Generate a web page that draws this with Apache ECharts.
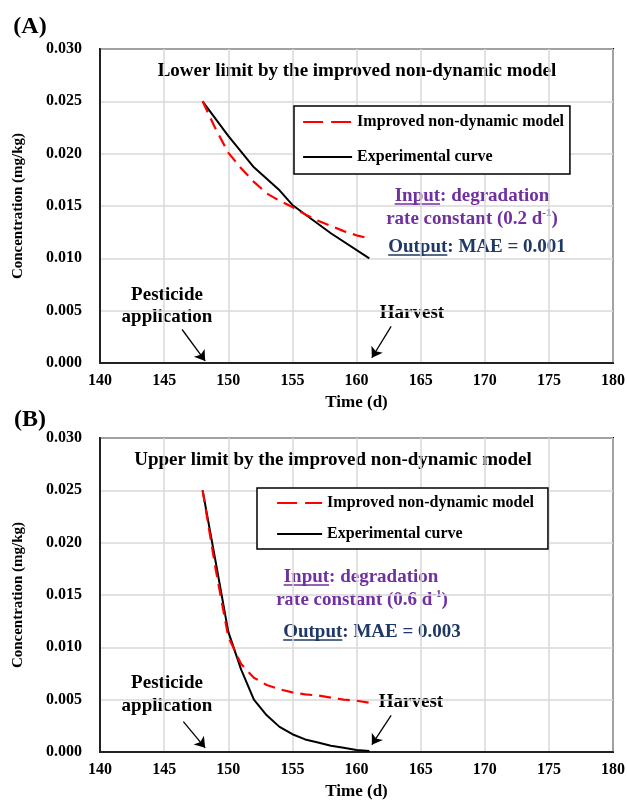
<!DOCTYPE html>
<html>
<head>
<meta charset="utf-8">
<script src="https://cdn.jsdelivr.net/npm/echarts@6/dist/echarts.min.js"></script>
<style>
  html, body { margin: 0; padding: 0; background: #fff; }
  #main { width: 627px; height: 803px; }
</style>
</head>
<body>
<div id="main"></div>
<script>
// ---- data ----
var lowerModelDays = [148, 149, 150, 151, 152, 153, 154, 155, 156, 157, 158, 159, 160, 161];
var lowerModelConc = [0.0250, 0.0224, 0.0201, 0.0186, 0.0173, 0.0162, 0.0155, 0.0149, 0.0142, 0.0136, 0.0131, 0.0126, 0.0122, 0.0119];
var lowerExpDays = [148, 150, 152, 154, 155, 158, 161];
var lowerExpConc = [0.0250, 0.0217, 0.0187, 0.0165, 0.0151, 0.0124, 0.0100];

var upperModelDays = [148, 149, 150, 151, 152, 153, 154, 155, 156, 157, 158, 159, 160, 161];
var upperModelConc = [0.0250, 0.0176, 0.0110, 0.0084, 0.0071, 0.0064, 0.0060, 0.0057, 0.0055, 0.0054, 0.0052, 0.0050, 0.0049, 0.0047];
var upperExpDays = [148, 149, 150, 151, 152, 153, 154, 155, 156, 157, 158, 159, 160, 161];
var upperExpConc = [0.0250, 0.0183, 0.0115, 0.0079, 0.0050, 0.0035, 0.0024, 0.0017, 0.0012, 0.0009, 0.0006, 0.0004, 0.0002, 0.0001];

var modelName = 'Improved non-dynamic model';
var expName = 'Experimental curve';

var SERIF = '"Liberation Serif", "Times New Roman", serif';
var PURPLE = '#7030A0';
var NAVY = '#1F3864';

function pairs(xs, ys) {
  return xs.map(function (x, i) { return [x, ys[i]]; });
}

var chart = echarts.init(document.getElementById('main'), null, { renderer: 'canvas' });

var grids = [
  { left: 100, top: 49, width: 513, height: 314 },
  { left: 100, top: 438, width: 513, height: 314 }
];

function xAx(i) {
  return {
    type: 'value', gridIndex: i, min: 140, max: 180, interval: 5,
    name: 'Time (d)', nameLocation: 'middle', nameGap: 31,
    nameTextStyle: { fontFamily: SERIF, fontWeight: 'bold', fontSize: 17, color: '#000' },
    axisLine: { show: true, onZero: false, lineStyle: { color: '#222', width: 2 } },
    axisTick: { show: false },
    axisLabel: { fontFamily: SERIF, fontWeight: 'bold', fontSize: 16, color: '#000', margin: 10 },
    splitLine: { show: true, lineStyle: { color: '#d9d9d9', width: 1.5 } }
  };
}
function yAx(i) {
  return {
    type: 'value', gridIndex: i, min: 0, max: 0.03, interval: 0.005,
    name: 'Concentration (mg/kg)', nameLocation: 'middle', nameGap: 74,
    nameTextStyle: { fontFamily: SERIF, fontWeight: 'bold', fontSize: 15, color: '#000' },
    axisLine: { show: true, onZero: false, lineStyle: { color: '#222', width: 2 } },
    axisTick: { show: false },
    axisLabel: { fontFamily: SERIF, fontWeight: 'bold', fontSize: 16, color: '#000', margin: 18,
      formatter: function (v) { return v.toFixed(3); } },
    splitLine: { show: true, lineStyle: { color: '#d9d9d9', width: 1.5 } }
  };
}

function arrows(list) {
  return {
    silent: true, animation: false,
    symbol: ['none', 'arrow'], symbolSize: 10,
    label: { show: false },
    lineStyle: { color: '#000', width: 1.3, type: 'solid' },
    emphasis: { disabled: true },
    data: list.map(function (a) { return [{ coord: a[0] }, { coord: a[1] }]; })
  };
}

function modelSeries(i, data) {
  return {
    name: modelName, type: 'line', xAxisIndex: i, yAxisIndex: i,
    data: data, symbol: 'none', smooth: false, z: 3,
    itemStyle: { color: '#ff0000' },
    lineStyle: { color: '#ff0000', width: 2.2, type: [12, 7] }
  };
}
function expSeries(i, data, arr) {
  return {
    name: expName, type: 'line', xAxisIndex: i, yAxisIndex: i,
    data: data, symbol: 'none', smooth: false, z: 2,
    itemStyle: { color: '#000' },
    lineStyle: { color: '#000', width: 2 },
    markLine: arrows(arr)
  };
}

function legendAt(left, top, pad, gap, w) {
  return {
    orient: 'vertical', left: left, top: top, padding: pad, itemGap: gap,
    itemWidth: w, itemHeight: 14,
    borderColor: '#000', borderWidth: 1.5, backgroundColor: '#fff',
    textStyle: { fontFamily: SERIF, fontWeight: 'bold', fontSize: 16, color: '#000' },
    data: [
      { name: modelName, itemStyle: { opacity: 0, borderWidth: 0 },
        lineStyle: { type: [20, 8], width: 2.2, color: '#ff0000' } },
      { name: expName, itemStyle: { opacity: 0, borderWidth: 0 },
        lineStyle: { type: 'solid', width: 2, color: '#000' } }
    ]
  };
}

var option = {
  animation: false,
  backgroundColor: '#fff',
  grid: grids.map(function (g) {
    return Object.assign({ show: true, borderColor: '#000', borderWidth: 2, backgroundColor: 'transparent',
      containLabel: false, outerBoundsMode: 'none' }, g);
  }),
  xAxis: [xAx(0), xAx(1)],
  yAxis: [yAx(0), yAx(1)],
  legend: [
    legendAt(294, 106, [8, 6, 9, 8], 19, 49),
    legendAt(257, 488, [7, 14, 7, 19], 15, 45)
  ],
  series: [
    modelSeries(0, pairs(lowerModelDays, lowerModelConc)),
    expSeries(0, pairs(lowerExpDays, lowerExpConc), [
      [[146.4, 0.0032], [148.2, 0.0002]],
      [[162.7, 0.0035], [161.2, 0.0005]]
    ]),
    modelSeries(1, pairs(upperModelDays, upperModelConc)),
    expSeries(1, pairs(upperExpDays, upperExpConc), [
      [[146.5, 0.0029], [148.2, 0.0004]],
      [[162.7, 0.0035], [161.2, 0.0007]]
    ])
  ]
};

// ---- annotation texts ----
var ctx = document.createElement('canvas').getContext('2d');
function textW(str, size) {
  ctx.font = 'bold ' + size + 'px ' + SERIF;
  return ctx.measureText(str).width;
}

function label(x, y, str, size, color) {
  return {
    type: 'text', x: x, y: y, silent: true,
    style: {
      text: str, fill: color || '#000',
      font: 'bold ' + size + 'px ' + SERIF,
      align: 'center', verticalAlign: 'middle',
      textAlign: 'center', textVerticalAlign: 'middle'
    }
  };
}

function supLabel(x, y, before, sup, after, size, color) {
  return {
    type: 'text', x: x, y: y, silent: true,
    style: {
      text: '{a|' + before + '}{s|' + sup + '}{a|' + after + '}',
      align: 'center', verticalAlign: 'middle',
      textAlign: 'center', textVerticalAlign: 'middle',
      rich: {
        a: { fontFamily: SERIF, fontWeight: 'bold', fontSize: size, fill: color, lineHeight: size + 3 },
        s: { fontFamily: SERIF, fontWeight: 'bold', fontSize: Math.round(size * 0.6), fill: color,
             lineHeight: Math.round(size * 0.75), verticalAlign: 'top' }
      }
    }
  };
}

function underlined(cx, y, head, rest, size, color) {
  var full = textW(head + rest, size);
  var hw = textW(head, size);
  var x0 = cx - full / 2;
  return [
    label(cx, y, head + rest, size, color),
    { type: 'line', silent: true,
      shape: { x1: x0, y1: y + 8, x2: x0 + hw, y2: y + 8 },
      style: { stroke: color, lineWidth: 1.5 } }
  ];
}

var FS = 19;
var graphics = [
  label(30, 27, '(A)', 24),
  label(30, 420, '(B)', 24),
  label(357, 71, 'Lower limit by the improved non-dynamic model', FS),
  label(333, 460, 'Upper limit by the improved non-dynamic model', FS),

  label(167, 295, 'Pesticide', FS),
  label(167, 317, 'application', FS),
  label(412, 313, 'Harvest', FS),
  label(167, 683, 'Pesticide', FS),
  label(167, 706, 'application', FS),
  label(411, 702, 'Harvest', FS),

  supLabel(472, 219, 'rate constant (0.2 d', '-1', ')', FS, PURPLE),
  supLabel(362, 600, 'rate constant (0.6 d', '-1', ')', FS, PURPLE)
];
graphics = graphics
  .concat(underlined(472, 196, 'Input', ': degradation', FS, PURPLE))
  .concat(underlined(477, 247, 'Output', ': MAE = 0.001', FS, NAVY))
  .concat(underlined(361, 577, 'Input', ': degradation', FS, PURPLE))
  .concat(underlined(372, 632, 'Output', ': MAE = 0.003', FS, NAVY));

option.graphic = { elements: graphics };

chart.setOption(option);
</script>
</body>
</html>
